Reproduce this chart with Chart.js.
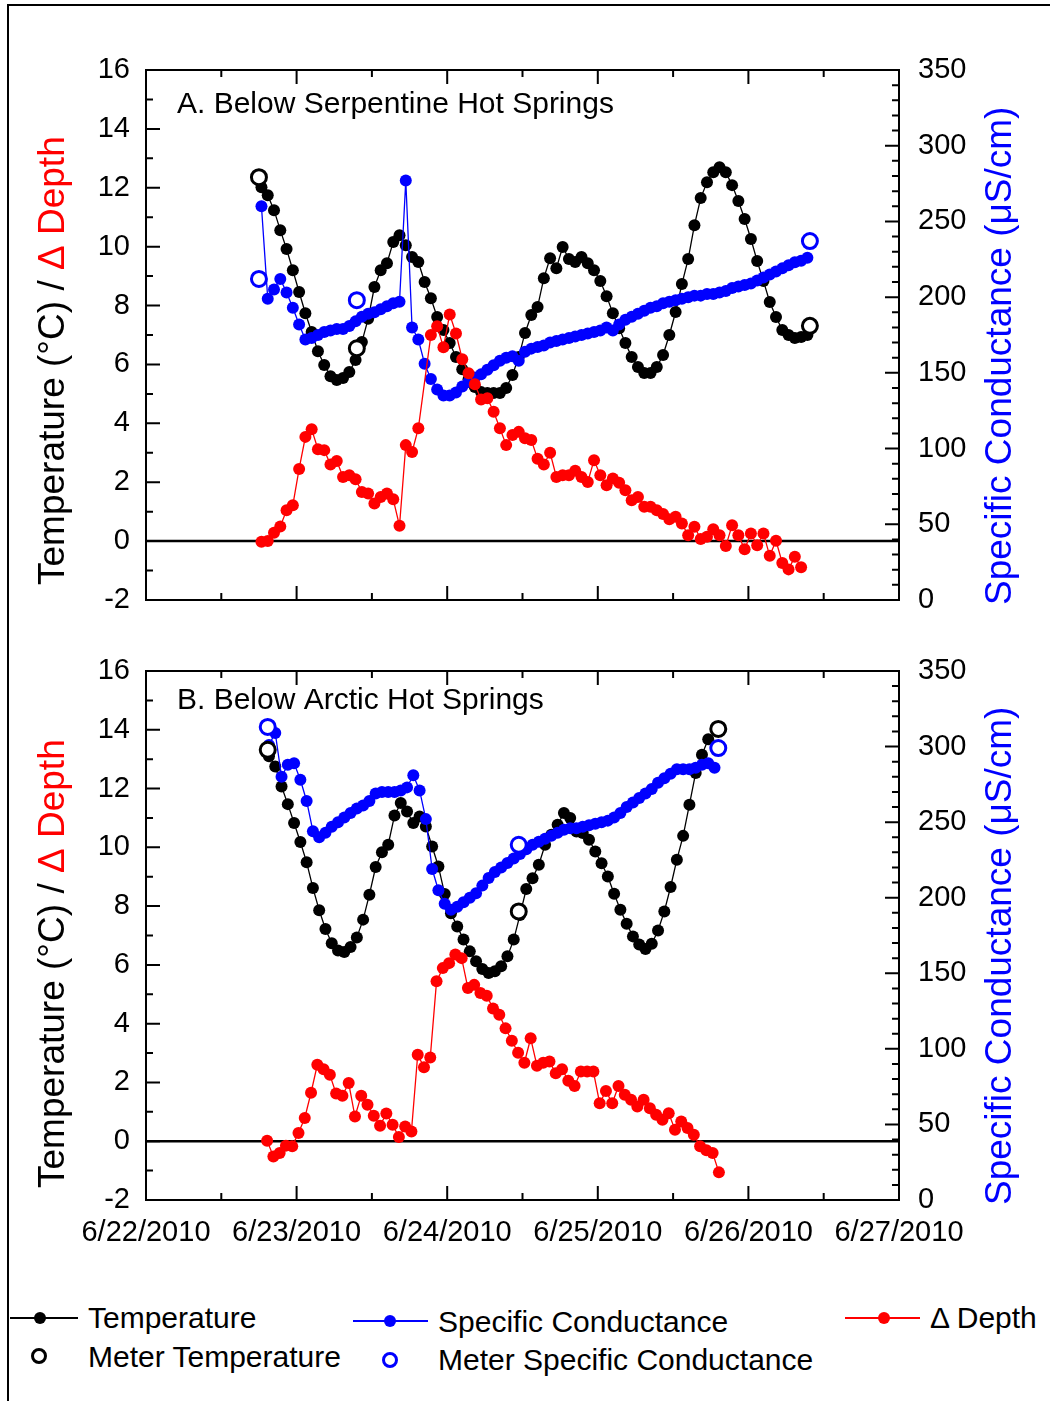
<!DOCTYPE html>
<html lang="en">
<head>
    <meta charset="UTF-8">
    <title>Temperature, specific conductance and depth below hot springs</title>
    <style>
        body {
            margin: 0;
            width: 1050px;
            height: 1401px;
            overflow: hidden;
            background: #fff;
            font-family: "Liberation Sans", Arial, sans-serif;
            position: relative;
        }

        #frame {
            position: absolute;
            left: 7px;
            top: 4px;
            width: 1200px;
            height: 1500px;
            border-top: 2px solid #000;
            border-left: 2px solid #000;
        }

        canvas {
            position: absolute;
            left: 0;
        }

        #chartA { top: 0; }
        #chartB { top: 620px; }

        .key {
            position: absolute;
            font-size: 30px;
            line-height: 30px;
            color: #000;
            white-space: nowrap;
        }

        .stroke {
            position: absolute;
            height: 1.5px;
        }

        .dot {
            position: absolute;
            width: 12px;
            height: 12px;
            border-radius: 50%;
        }

        .ring {
            position: absolute;
            width: 10px;
            height: 10px;
            border-radius: 50%;
            border: 3px solid;
            background: #fff;
        }
    </style>
</head>
<body>
    <div id="frame"></div>

    <canvas id="chartA" width="1050" height="640"></canvas>
    <canvas id="chartB" width="1050" height="640"></canvas>

    <!-- legend -->
    <div class="stroke" style="left:10px; top:1317px; width:68px; background:#000;"></div>
    <div class="dot" style="left:34px; top:1312px; background:#000;"></div>
    <div class="key" style="left:88px; top:1303px;">Temperature</div>

    <div class="stroke" style="left:353px; top:1320px; width:75px; background:#0000ff;"></div>
    <div class="dot" style="left:384px; top:1315px; background:#0000ff;"></div>
    <div class="key" style="left:438px; top:1307px;">Specific Conductance</div>

    <div class="stroke" style="left:845px; top:1317px; width:75px; background:#ff0000;"></div>
    <div class="dot" style="left:878px; top:1312px; background:#ff0000;"></div>
    <div class="key" style="left:930px; top:1303px;">&Delta; Depth</div>

    <div class="ring" style="left:31px; top:1348px; border-color:#000;"></div>
    <div class="key" style="left:88px; top:1342px;">Meter Temperature</div>

    <div class="ring" style="left:382px; top:1352px; border-color:#0000ff;"></div>
    <div class="key" style="left:438px; top:1345px;">Meter Specific Conductance</div>

    <script src="https://cdn.jsdelivr.net/npm/chart.js"></script>
    <script>
        // x axis: days after 6/22/2010 00:00
        const dateLabels = ['6/22/2010', '6/23/2010', '6/24/2010', '6/25/2010', '6/26/2010', '6/27/2010'];

        // ---- A. Below Serpentine Hot Springs (hourly logger readings) ----
        const startA = 18.4;       // hour of first logger reading
        const tempA = [12.02, 11.75, 11.24, 10.56, 9.92, 9.2, 8.46, 7.74, 7.1, 6.45,
            5.98, 5.6, 5.47, 5.54, 5.74, 6.15, 6.76, 7.55, 8.63, 9.2,
            9.44, 10.16, 10.39, 10.05, 9.65, 9.48, 8.8, 8.25, 7.61, 7.17,
            6.73, 6.25, 5.84, 5.5, 5.23, 5.06, 5.03, 5.03, 5.03, 5.2,
            5.64, 6.25, 7.07, 7.68, 7.95, 8.93, 9.61, 9.27, 9.99, 9.58,
            9.48, 9.65, 9.44, 9.2, 8.83, 8.32, 7.74, 7.23, 6.73, 6.25,
            5.91, 5.71, 5.71, 5.91, 6.32, 7.0, 7.78, 8.73, 9.58, 10.73,
            11.65, 12.19, 12.53, 12.7, 12.53, 12.09, 11.55, 10.94, 10.26, 9.51,
            8.83, 8.12, 7.61, 7.17, 7.0, 6.9, 6.93, 7.0];
        const condA = [260, 199, 205, 212, 203, 193, 182, 172, 173, 175,
            177, 178, 179, 179, 181, 184, 187, 189, 190, 192,
            194, 196, 197, 277, 180, 172, 156, 146, 139, 135,
            135, 137, 141, 144, 147, 149, 152, 155, 158, 160,
            161, 158, 164, 166, 167, 168, 170, 171, 172, 173,
            174, 175, 176, 177, 178, 180, 178, 182, 185, 187,
            189, 191, 193, 194, 196, 197, 198, 199, 200, 201,
            201, 202, 202, 203, 204, 206, 207, 208, 209, 211,
            213, 215, 217, 219, 221, 223, 224, 226];
        const depthA = [-0.02, 0.0, 0.28, 0.5, 1.05, 1.22, 2.45, 3.54, 3.8, 3.12,
            3.09, 2.6, 2.72, 2.18, 2.24, 2.1, 1.67, 1.62, 1.28, 1.5,
            1.62, 1.42, 0.52, 3.26, 3.03, 3.83, null, 7.0, 7.3, 6.58,
            7.7, 7.05, 6.18, 5.7, 5.33, 4.81, 4.85, 4.39, 3.83, 3.26,
            3.6, 3.71, 3.49, 3.43, 2.8, 2.6, 3.0, 2.18, 2.24, 2.24,
            2.39, 2.18, 2.01, 2.75, 2.24, 1.9, 2.13, 1.98, 1.73, 1.39,
            1.5, 1.17, 1.17, 1.05, 0.92, 0.74, 0.83, 0.6, 0.2, 0.49,
            0.07, 0.15, 0.4, 0.2, -0.17, 0.54, 0.2, -0.28, 0.26, -0.14,
            0.26, -0.5, 0.01, -0.74, -0.96, -0.53, -0.89];
        // hand meter readings
        const meterHoursA = [18.0, 33.6, 105.8];
        const meterTempA = [12.36, 6.55, 7.31];
        const meterCondA = [212, 198, 237];

        // ---- B. Below Arctic Hot Springs ----
        const startTempB = 19.6;
        const tempB = [13.1, 12.75, 12.07, 11.47, 10.83, 10.18, 9.49, 8.62, 7.86, 7.22,
            6.74, 6.49, 6.44, 6.61, 6.93, 7.54, 8.39, 9.33, 9.83, 10.09,
            11.08, 11.51, 11.22, 10.83, 11.05, 10.71, 10.03, 9.35, 8.41, 7.76,
            7.31, 6.86, 6.46, 6.12, 5.86, 5.72, 5.78, 5.95, 6.29, 6.86,
            7.7, 8.58, 8.95, 9.41, 10.09, 10.43, 10.77, 11.17, 11.0, 10.54,
            10.49, 10.26, 9.86, 9.46, 9.01, 8.42, 7.88, 7.4, 6.97, 6.69,
            6.54, 6.72, 7.17, 7.82, 8.65, 9.58, 10.39, 11.45, 12.53, 13.15, 13.68];
        const startCondB = 19.6;
        const condB = [301, 309, 280, 288, 289, 278, 264, 244, 240, 243,
            247, 250, 253, 256, 259, 261, 264, 269, 270, 270,
            270, 271, 273, 281, 271, 252, 219, 205, 196, 192,
            194, 197, 200, 203, 208, 213, 217, 220, 223, 226,
            229, 232, 235, 237, 239, 241, 243, 245, 246, 246,
            247, 248, 249, 250, 251, 253, 256, 260, 263, 266,
            269, 272, 276, 279, 282, 285, 285, 285, 286, 288, 289, 286];
        const startDepthB = 19.3;
        const depthB = [0.02, -0.52, -0.4, -0.15, -0.17, 0.28, 0.79, 1.65, 2.6, 2.45,
            2.26, 1.62, 1.55, 1.98, 0.84, 1.55, 1.24, 0.87, 0.53, 0.94,
            0.56, 0.14, 0.5, 0.33, 2.94, 2.52, 2.85, 5.44, 5.89, 6.06,
            6.35, 6.23, 5.21, 5.32, 5.04, 4.95, 4.52, 4.3, 3.84, 3.42,
            3.01, 2.67, 3.5, 2.57, 2.67, 2.71, 2.31, 2.45, 2.06, 1.88,
            2.37, 2.37, 2.37, 1.29, 1.71, 1.29, 1.88, 1.58, 1.41, 1.18,
            1.41, 1.12, 0.9, 0.73, 0.95, 0.39, 0.67, 0.45, 0.22, -0.17,
            -0.31, -0.4, -1.06];
        const meterHoursB = [19.4, 59.4, 91.2];
        const meterTempB = [13.32, 7.82, 14.03];
        const meterCondB = [313, 235, 299];

        const FONT = '"Liberation Sans", Arial, sans-serif';
        Chart.defaults.font.family = FONT;
        Chart.defaults.color = '#000';

        // hourly series -> {x: day, y}
        function hourly(vals, start) {
            return vals.map((v, i) => ({ x: (start + i) / 24, y: v }));
        }

        function atHours(vals, hours) {
            return vals.map((v, i) => ({ x: hours[i] / 24, y: v }));
        }

        function lineSet(points, axis, color, order) {
            return {
                data: points, yAxisID: axis, order: order,
                borderColor: color, backgroundColor: color,
                borderWidth: 1.3, pointRadius: 6, pointBorderWidth: 0,
                spanGaps: true, tension: 0
            };
        }

        function meterSet(points, axis, color, order) {
            return {
                data: points, yAxisID: axis, order: order, showLine: false,
                borderColor: color, backgroundColor: '#fff',
                pointRadius: 7.5, pointBorderWidth: 3
            };
        }

        // frame, inward ticks, zero line and titles
        const decor = {
            id: 'decor',
            beforeDatasetsDraw(chart) {
                const { ctx, chartArea: a, scales } = chart;
                const y0 = scales.y.getPixelForValue(0);
                ctx.save();
                ctx.strokeStyle = '#000';
                ctx.lineWidth = 2.5;
                ctx.beginPath();
                ctx.moveTo(a.left, y0);
                ctx.lineTo(a.right, y0);
                ctx.stroke();
                ctx.restore();
            },
            afterDatasetsDraw(chart, args, opts) {
                const { ctx, chartArea: a, scales } = chart;
                ctx.save();
                ctx.strokeStyle = '#000';
                ctx.lineWidth = 2;
                ctx.strokeRect(a.left, a.top, a.right - a.left, a.bottom - a.top);

                ctx.beginPath();
                for (let v = 0; v <= 10; v++) {
                    const px = scales.x.getPixelForValue(v / 2);
                    const len = v % 2 === 0 ? 14 : 7;
                    ctx.moveTo(px, a.bottom); ctx.lineTo(px, a.bottom - len);
                    ctx.moveTo(px, a.top); ctx.lineTo(px, a.top + len);
                }
                for (let v = -2; v <= 16; v++) {
                    const py = scales.y.getPixelForValue(v);
                    const len = v % 2 === 0 ? 14 : 7;
                    ctx.moveTo(a.left, py); ctx.lineTo(a.left + len, py);
                }
                for (let v = 0; v <= 350; v += 10) {
                    const py = scales.y2.getPixelForValue(v);
                    const len = v % 50 === 0 ? 14 : 7;
                    ctx.moveTo(a.right, py); ctx.lineTo(a.right - len, py);
                }
                ctx.stroke();

                // panel title
                ctx.fillStyle = '#000';
                ctx.font = '30px ' + FONT;
                ctx.textBaseline = 'middle';
                ctx.textAlign = 'left';
                ctx.fillText(opts.title, 177, opts.titleY);

                // axis titles, reading upward
                ctx.font = '37px ' + FONT;
                ctx.textBaseline = 'alphabetic';
                ctx.save();
                ctx.translate(64, opts.leftStart);
                ctx.rotate(-Math.PI / 2);
                const part = 'Temperature (°C) / ';
                ctx.fillText(part, 0, 0);
                ctx.fillStyle = '#ff0000';
                ctx.fillText('\u0394 Depth', ctx.measureText(part).width, 0);
                ctx.restore();

                ctx.save();
                ctx.translate(1011, opts.rightStart);
                ctx.rotate(-Math.PI / 2);
                ctx.fillStyle = '#0000ff';
                ctx.fillText('Specific Conductance (\u03bcS/cm)', 0, 0);
                ctx.restore();
                ctx.restore();
            }
        };

        function makePanel(canvasId, sets, cfg) {
            return new Chart(document.getElementById(canvasId), {
                type: 'line',
                data: { datasets: sets },
                plugins: [decor],
                options: {
                    responsive: false,
                    animation: false,
                    devicePixelRatio: 1,
                    events: [],
                    layout: { padding: { top: cfg.top, left: 0, right: 0, bottom: 0 } },
                    plugins: {
                        legend: { display: false },
                        tooltip: { enabled: false },
                        decor: cfg.decor
                    },
                    scales: {
                        x: {
                            type: 'linear', min: 0, max: 5,
                            grid: { display: false, drawTicks: false },
                            border: { display: false },
                            afterFit: s => { s.height = cfg.xHeight; },
                            ticks: {
                                display: cfg.xLabels, stepSize: 1, padding: 16,
                                maxRotation: 0, autoSkip: false,
                                font: { size: 29 },
                                callback: v => dateLabels[v]
                            }
                        },
                        y: {
                            position: 'left', min: -2, max: 16,
                            grid: { display: false, drawTicks: false },
                            border: { display: false },
                            afterFit: s => { s.width = 146; },
                            ticks: { stepSize: 2, padding: 16, font: { size: 29 }, callback: v => String(v) }
                        },
                        y2: {
                            position: 'right', min: 0, max: 350,
                            grid: { display: false, drawTicks: false },
                            border: { display: false },
                            afterFit: s => { s.width = 151; },
                            ticks: { stepSize: 50, padding: 19, font: { size: 29 }, callback: v => String(v) }
                        }
                    }
                }
            });
        }

        makePanel('chartA', [
            meterSet(atHours(meterTempA, meterHoursA), 'y', '#000000', 0),
            meterSet(atHours(meterCondA, meterHoursA), 'y2', '#0000ff', 1),
            lineSet(hourly(depthA, startA), 'y', '#ff0000', 2),
            lineSet(hourly(condA, startA), 'y2', '#0000ff', 3),
            lineSet(hourly(tempA, startA), 'y', '#000000', 4)
        ], {
            top: 70, xHeight: 40, xLabels: false,
            decor: { title: 'A. Below Serpentine Hot Springs', titleY: 105, leftStart: 585, rightStart: 605 }
        });

        makePanel('chartB', [
            meterSet(atHours(meterTempB, meterHoursB), 'y', '#000000', 0),
            meterSet(atHours(meterCondB, meterHoursB), 'y2', '#0000ff', 1),
            lineSet(hourly(depthB, startDepthB), 'y', '#ff0000', 2),
            lineSet(hourly(condB, startCondB), 'y2', '#0000ff', 3),
            lineSet(hourly(tempB, startTempB), 'y', '#000000', 4)
        ], {
            top: 51, xHeight: 60, xLabels: true,
            decor: { title: 'B. Below Arctic Hot Springs', titleY: 81, leftStart: 568, rightStart: 585 }
        });
    </script>
</body>
</html>
